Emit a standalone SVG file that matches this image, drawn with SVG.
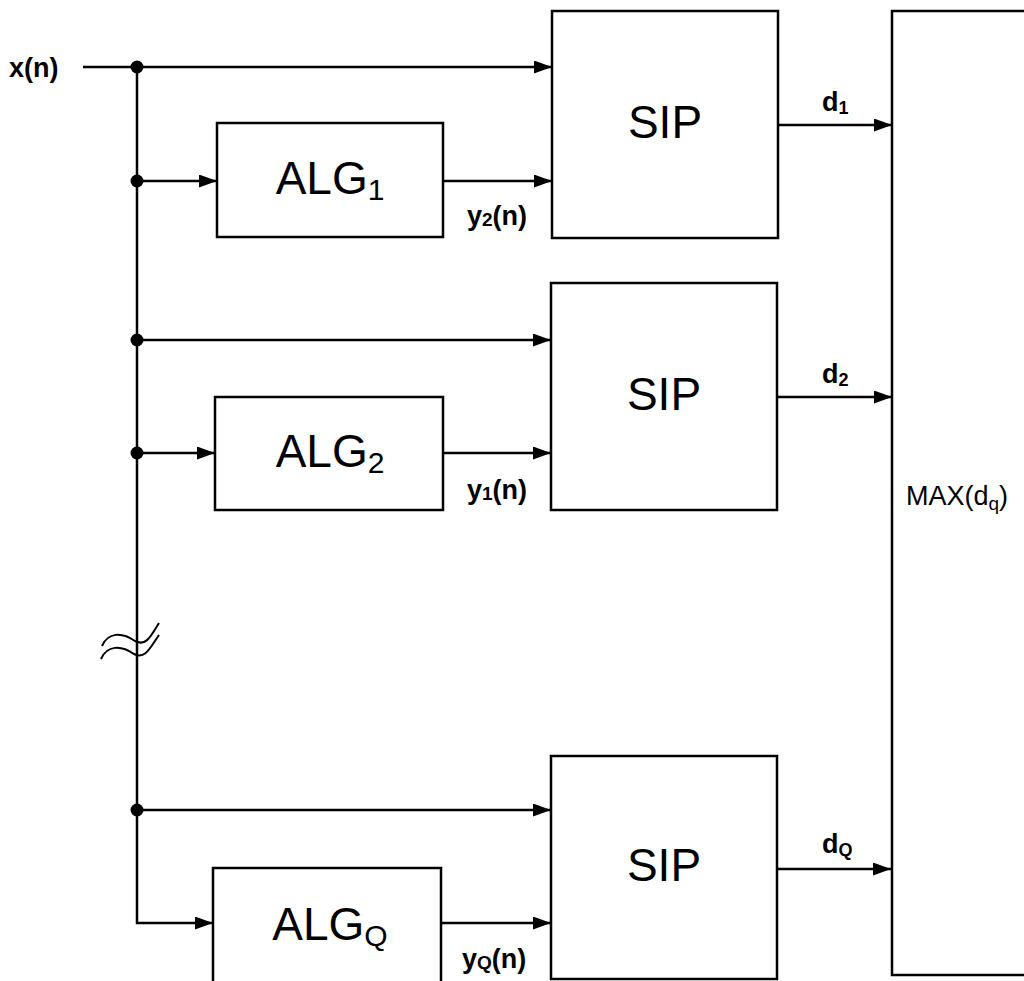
<svg xmlns="http://www.w3.org/2000/svg" width="1024" height="981" viewBox="0 0 1024 981">
<style>
.box{fill:none;stroke:#000;stroke-width:2.5}
.ln{fill:none;stroke:#000;stroke-width:2.5}
.big{font-family:"Liberation Sans",Arial,sans-serif;font-size:46px;fill:#000}
.lbl{font-family:"Liberation Sans",Arial,sans-serif;font-size:27px;font-weight:bold;fill:#000}
.max{font-family:"Liberation Sans",Arial,sans-serif;font-size:27px;fill:#000}
</style>
<defs>
<marker id="arr" markerUnits="userSpaceOnUse" markerWidth="19" markerHeight="13" refX="18" refY="6.5" orient="auto">
<path d="M0,0 L18,6.5 L0,13 z" fill="#000"/>
</marker>
</defs>
<rect width="1024" height="981" fill="#fff"/>
<g id="connectors">
<path class="ln" d="M83,67 H552" marker-end="url(#arr)"/>
<path class="ln" d="M137,67 V923 H213" marker-end="url(#arr)"/>
<path class="ln" d="M137,181 H217" marker-end="url(#arr)"/>
<path class="ln" d="M443,181 H552" marker-end="url(#arr)"/>
<path class="ln" d="M137,340 H551" marker-end="url(#arr)"/>
<path class="ln" d="M137,453 H215" marker-end="url(#arr)"/>
<path class="ln" d="M443,453 H551" marker-end="url(#arr)"/>
<path class="ln" d="M137,810 H551" marker-end="url(#arr)"/>
<path class="ln" d="M441,923 H551" marker-end="url(#arr)"/>
<path class="ln" d="M778,125 H892" marker-end="url(#arr)"/>
<path class="ln" d="M777,397 H892" marker-end="url(#arr)"/>
<path class="ln" d="M777,869 H891" marker-end="url(#arr)"/>
<g fill="#000">
<circle cx="137" cy="67" r="6.5"/>
<circle cx="137" cy="181" r="6.5"/>
<circle cx="137" cy="340" r="6.5"/>
<circle cx="137" cy="453" r="6.5"/>
<circle cx="137" cy="810" r="6.5"/>
</g>
<path d="M102,646 C108,632 122,632 135,641 C146,647 151,636 159,623" fill="none" stroke="#000" stroke-width="2"/>
<path d="M101,659 C107,645 121,645 134,654 C145,660 150,648 159,635" fill="none" stroke="#000" stroke-width="2"/>
</g>
<g id="input-label"><text class="lbl" x="9" y="77" font-size="29">x(n)</text></g>
<g id="alg1">
<rect class="box" x="217" y="123" width="226" height="114"/>
<text class="big" x="330" y="194" text-anchor="middle">ALG<tspan font-size="30" dy="6">1</tspan></text>
</g>
<g id="alg2">
<rect class="box" x="215" y="397" width="228" height="113"/>
<text class="big" x="330" y="467" text-anchor="middle">ALG<tspan font-size="30" dy="6">2</tspan></text>
</g>
<g id="algq">
<rect class="box" x="213" y="868" width="228" height="130"/>
<text class="big" x="330" y="940" text-anchor="middle">ALG<tspan font-size="30" dy="6">Q</tspan></text>
</g>
<g id="sip1">
<rect class="box" x="552" y="11" width="226" height="227"/>
<text class="big" x="665" y="138" text-anchor="middle">SIP</text>
</g>
<g id="sip2">
<rect class="box" x="551" y="283" width="226" height="227"/>
<text class="big" x="664" y="410" text-anchor="middle">SIP</text>
</g>
<g id="sipq">
<rect class="box" x="551" y="756" width="226" height="223"/>
<text class="big" x="664" y="881" text-anchor="middle">SIP</text>
</g>
<g id="max">
<rect class="box" x="892" y="11" width="150" height="964"/>
<text class="max" x="906" y="505">MAX(d<tspan font-size="19" dy="5">q</tspan><tspan dy="-5">)</tspan></text>
</g>
<g id="labels">
<text class="lbl" x="467" y="225">y<tspan font-size="19" dy="1">2</tspan><tspan dy="-1">(n)</tspan></text>
<text class="lbl" x="467" y="499">y<tspan font-size="19" dy="1">1</tspan><tspan dy="-1">(n)</tspan></text>
<text class="lbl" x="462" y="968">y<tspan font-size="19" dy="1">Q</tspan><tspan dy="-1">(n)</tspan></text>
<text class="lbl" x="822" y="111" font-size="26">d<tspan font-size="18" dy="3">1</tspan></text>
<text class="lbl" x="822" y="383" font-size="26">d<tspan font-size="18" dy="3">2</tspan></text>
<text class="lbl" x="822" y="853" font-size="26">d<tspan font-size="18" dy="3">Q</tspan></text>
</g>
</svg>
